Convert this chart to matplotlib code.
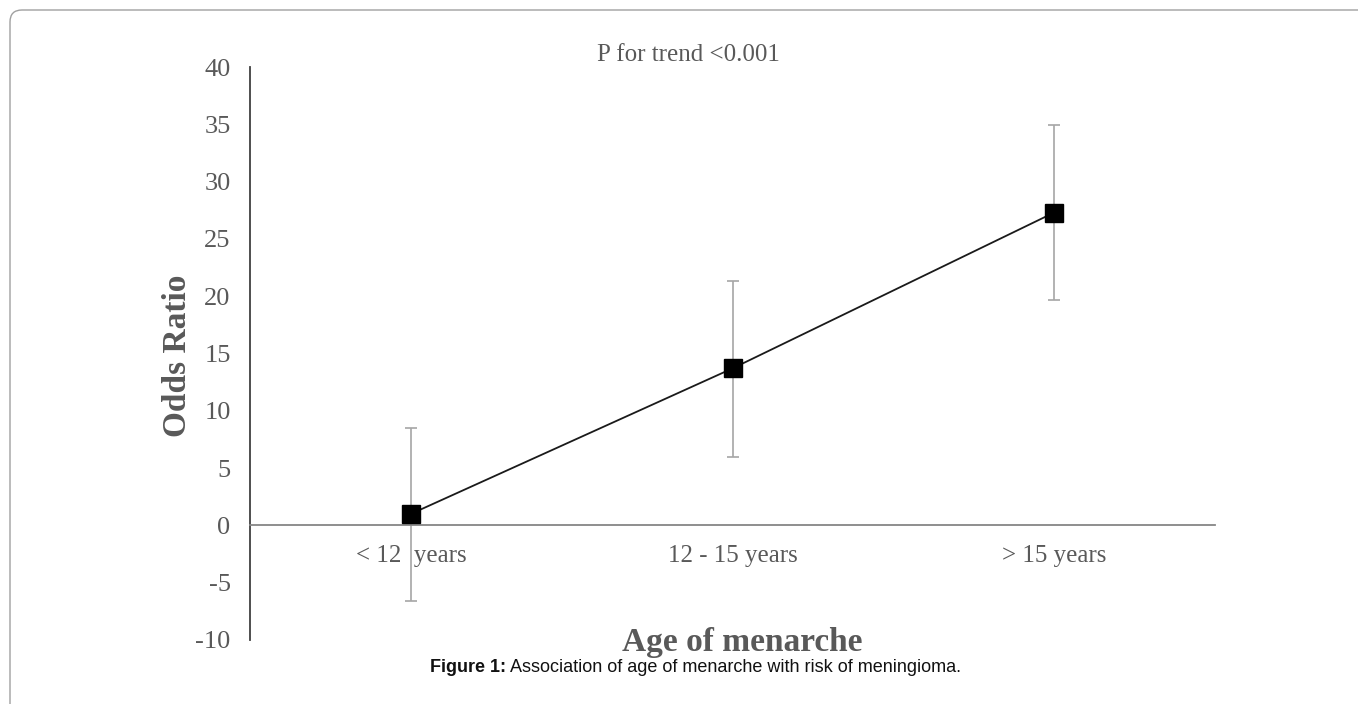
import matplotlib
matplotlib.use("Agg")
import matplotlib.pyplot as plt
from matplotlib.patches import FancyBboxPatch

# data
categories = ['< 12  years', '12 - 15 years', '> 15 years']
odds_ratio = [1.0, 13.7, 27.3]
ci_low = [-6.6, 6.0, 19.7]
ci_high = [8.5, 21.3, 34.9]
yticks = [-10, -5, 0, 5, 10, 15, 20, 25, 30, 35, 40]

plt.rcParams['font.family'] = ['Liberation Serif', 'DejaVu Serif']
plt.rcParams['axes.unicode_minus'] = False

fig = plt.figure(figsize=(13.58, 7.04), dpi=100)
ax = fig.add_axes([250 / 1358, 64 / 704, 965 / 1358, 573 / 704])

x = list(range(len(categories)))
err_lo = [v - l for v, l in zip(odds_ratio, ci_low)]
err_hi = [h - v for v, h in zip(odds_ratio, ci_high)]

ax.errorbar(x, odds_ratio, yerr=[err_lo, err_hi], fmt='none', ecolor='#a6a6a6',
            elinewidth=1.2, capsize=4, capthick=1.2, zorder=2)
ax.plot(x, odds_ratio, color='#1a1a1a', lw=1.3, marker='s', markersize=13.5,
        markerfacecolor='black', markeredgecolor='black', zorder=3)

ax.set_xlim(-0.5, 2.5)
ax.set_ylim(-10, 40)
ax.set_yticks(yticks)
ax.set_xticks(x)
ax.set_xticklabels(categories)

ax.spines['top'].set_visible(False)
ax.spines['right'].set_visible(False)
ax.spines['left'].set_color('#404040')
ax.spines['left'].set_linewidth(1.3)
ax.spines['bottom'].set_position(('data', 0))
ax.spines['bottom'].set_color('#868686')
ax.spines['bottom'].set_linewidth(1.3)
ax.tick_params(axis='y', length=0, pad=14, labelsize=19, labelcolor='#595959')
ax.tick_params(axis='x', length=0, pad=14, labelsize=18, labelcolor='#595959')

fig.text(177 / 1358, 1 - 356 / 704, 'Odds Ratio', rotation=90, ha='center', va='center',
         fontsize=24, fontweight='bold', color='#595959')
fig.text(742 / 1358, 1 - 643 / 704, 'Age of menarche', ha='center', va='center',
         fontsize=24, fontweight='bold', color='#595959')
fig.text(688 / 1358, 1 - 55 / 704, 'P for trend <0.001', ha='center', va='center',
         fontsize=18, color='#595959')

# caption: bold prefix then normal text
cap = fig.text(430 / 1358, 1 - 668 / 704, 'Figure 1:', ha='left', va='center',
               fontsize=13, fontweight='bold', family='Liberation Sans', color='#111111')
fig.canvas.draw()
bb = cap.get_window_extent()
fig.text((bb.x1 + 4) / 1358, 1 - 668 / 704,
         'Association of age of menarche with risk of meningioma.',
         ha='left', va='center', fontsize=13, family='Liberation Sans', color='#111111')

# rounded page border
border = FancyBboxPatch((0.1, -1.0), 14.0, 7.94, boxstyle='round,pad=0,rounding_size=0.12',
                        transform=fig.dpi_scale_trans, facecolor='none',
                        edgecolor='#a0a0a0', lw=1.0)
fig.patches.append(border)

fig.savefig('out.png', dpi=100)
